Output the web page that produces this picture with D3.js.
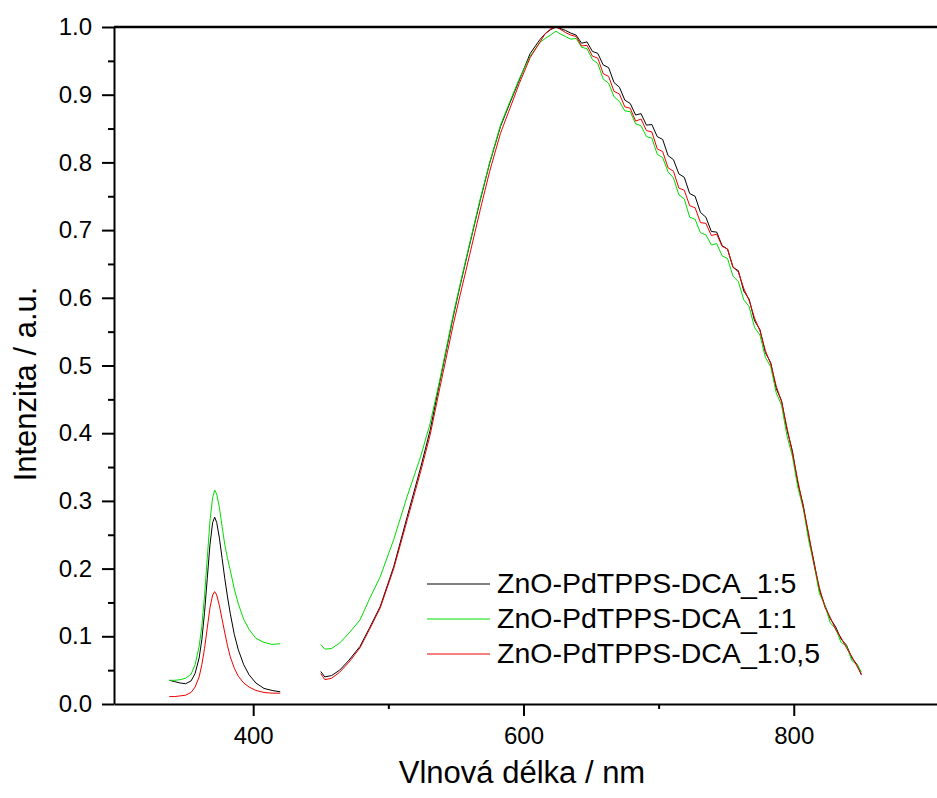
<!DOCTYPE html>
<html>
<head>
<meta charset="utf-8">
<script src="https://cdn.jsdelivr.net/npm/d3@7"></script>
<style>
    body { margin: 0; background: #fff; }
    svg { display: block; font-family: "Liberation Sans", Arial, sans-serif; }
</style>
</head>
<body>
<div id="chart"></div>
<script>
// --- Data ---
const seriesNames = ['ZnO-PdTPPS-DCA_1:5', 'ZnO-PdTPPS-DCA_1:1', 'ZnO-PdTPPS-DCA_1:0,5'];
const seriesColors = ['#000000', '#00dd00', '#ee0000'];

// UV band (ZnO emission)
const leftWavelengths = [338, 342, 346, 350, 354, 357, 360, 362, 364, 366, 368, 370, 371.5, 373, 375, 377, 379, 381, 383, 386, 389, 393, 397, 402, 408, 414, 420];
const blackLeft = [0.035, 0.033, 0.031, 0.030, 0.034, 0.045, 0.068, 0.095, 0.135, 0.185, 0.235, 0.268, 0.276, 0.268, 0.245, 0.215, 0.185, 0.158, 0.134, 0.103, 0.080, 0.058, 0.043, 0.031, 0.023, 0.020, 0.018];
const greenLeft = [0.035, 0.035, 0.036, 0.038, 0.044, 0.058, 0.085, 0.115, 0.160, 0.215, 0.270, 0.305, 0.316, 0.310, 0.290, 0.262, 0.235, 0.215, 0.198, 0.170, 0.148, 0.125, 0.110, 0.097, 0.091, 0.088, 0.089];
const redLeft = [0.011, 0.011, 0.012, 0.013, 0.017, 0.025, 0.040, 0.058, 0.082, 0.112, 0.142, 0.161, 0.166, 0.161, 0.145, 0.125, 0.105, 0.086, 0.070, 0.053, 0.041, 0.031, 0.025, 0.020, 0.017, 0.016, 0.016];

// visible band
const rightWavelengths = [450, 453, 458, 464, 471, 479, 486, 494, 504, 514, 524, 531, 538, 548, 553, 560, 568, 575, 583, 590, 597, 605, 612, 616, 620, 624, 627, 631, 635,
    639, 643, 647, 651, 655, 659, 663, 667, 671, 675, 679, 683, 687, 691, 695, 699, 703, 707, 711, 715, 719, 723, 727, 731, 735, 739, 743, 747,
    751, 755, 759, 763, 767, 771, 775, 779, 783, 787, 791, 795, 799, 803, 807, 811, 815, 819, 823, 827, 831, 835, 839, 843, 847, 850];
const blackRight = [0.048, 0.040, 0.042, 0.050, 0.065, 0.085, 0.112, 0.144, 0.203, 0.277, 0.350, 0.405, 0.475, 0.572, 0.617, 0.677, 0.744, 0.799, 0.853, 0.888, 0.922, 0.961, 0.981, 0.990, 0.996, 1.000, 0.998, 0.995, 0.991,
    0.988, 0.976, 0.978, 0.964, 0.961, 0.944, 0.940, 0.918, 0.911, 0.892, 0.887, 0.870, 0.872, 0.855, 0.856, 0.838, 0.834, 0.810, 0.804, 0.783, 0.778, 0.754, 0.750, 0.726, 0.719, 0.698, 0.697, 0.677,
    0.672, 0.645, 0.640, 0.610, 0.598, 0.566, 0.553, 0.519, 0.504, 0.466, 0.448, 0.405, 0.374, 0.326, 0.294, 0.248, 0.210, 0.168, 0.146, 0.126, 0.114, 0.096, 0.087, 0.068, 0.058, 0.043];
const greenRight = [0.088, 0.081, 0.082, 0.090, 0.105, 0.124, 0.155, 0.188, 0.243, 0.307, 0.366, 0.415, 0.478, 0.575, 0.619, 0.679, 0.746, 0.800, 0.855, 0.890, 0.924, 0.957, 0.977, 0.983, 0.988, 0.994, 0.990, 0.986, 0.982,
    0.983, 0.970, 0.968, 0.952, 0.946, 0.923, 0.917, 0.897, 0.890, 0.876, 0.875, 0.857, 0.854, 0.838, 0.836, 0.812, 0.807, 0.786, 0.777, 0.752, 0.746, 0.719, 0.716, 0.696, 0.693, 0.678, 0.680, 0.662,
    0.658, 0.632, 0.624, 0.597, 0.587, 0.556, 0.545, 0.512, 0.498, 0.460, 0.441, 0.396, 0.366, 0.320, 0.289, 0.242, 0.206, 0.163, 0.146, 0.120, 0.111, 0.091, 0.086, 0.064, 0.058, 0.047];
const redRight = [0.045, 0.036, 0.038, 0.047, 0.062, 0.083, 0.110, 0.142, 0.200, 0.272, 0.344, 0.398, 0.466, 0.560, 0.603, 0.662, 0.730, 0.787, 0.843, 0.880, 0.917, 0.955, 0.977, 0.990, 0.997, 1.000, 0.997, 0.992, 0.988,
    0.986, 0.972, 0.973, 0.957, 0.954, 0.931, 0.927, 0.905, 0.901, 0.882, 0.880, 0.861, 0.864, 0.847, 0.845, 0.820, 0.816, 0.792, 0.787, 0.762, 0.759, 0.736, 0.733, 0.711, 0.710, 0.692, 0.694, 0.676,
    0.672, 0.646, 0.638, 0.614, 0.596, 0.570, 0.551, 0.522, 0.502, 0.470, 0.446, 0.408, 0.371, 0.330, 0.291, 0.252, 0.206, 0.172, 0.143, 0.128, 0.110, 0.098, 0.083, 0.070, 0.055, 0.044];

const xMajorTicks = [400, 600, 800];
const xMinorTicks = [500, 700];
const yMajorTicks = [0, 0.1, 0.2, 0.3, 0.4, 0.5, 0.6, 0.7, 0.8, 0.9, 1.0];
const yMinorTicks = [0.05, 0.15, 0.25, 0.35, 0.45, 0.55, 0.65, 0.75, 0.85, 0.95];

const xTitle = 'Vlnová délka / nm';
const yTitle = 'Intenzita / a.u.';

// --- Chart ---
const width = 937, height = 798;

const svg = d3.select('#chart')
    .append('svg')
    .attr('width', width)
    .attr('height', height);

const x = d3.scaleLinear().domain([297, 906]).range([114, 937]);
const y = d3.scaleLinear().domain([0, 1]).range([704, 27]);

function segments(i) {
    const left = [blackLeft, greenLeft, redLeft][i];
    const right = [blackRight, greenRight, redRight][i];
    return [
        leftWavelengths.map((w, k) => [w, left[k]]),
        rightWavelengths.map((w, k) => [w, right[k]])
    ];
}

const line = d3.line()
    .x(d => x(d[0]))
    .y(d => y(d[1]));

seriesNames.forEach((name, i) => {
    svg.append('g')
        .selectAll('path')
        .data(segments(i))
        .enter()
        .append('path')
        .attr('d', line)
        .attr('fill', 'none')
        .attr('stroke', seriesColors[i])
        .attr('stroke-width', 1);
});

// --- Axes ---
svg.append('g')
    .attr('transform', `translate(0,${y(0)})`)
    .call(d3.axisBottom(x).tickValues(xMajorTicks).tickSize(12).tickSizeOuter(0).tickPadding(11));

svg.append('g')
    .attr('transform', `translate(0,${y(0)})`)
    .call(d3.axisBottom(x).tickValues(xMinorTicks).tickSize(5).tickFormat(''))
    .call(g => g.select('.domain').remove());

svg.append('g')
    .attr('transform', `translate(${x.range()[0]},0)`)
    .call(d3.axisLeft(y).tickValues(yMajorTicks).tickSize(12).tickSizeOuter(0).tickPadding(10).tickFormat(d3.format('.1f')));

svg.append('g')
    .attr('transform', `translate(${x.range()[0]},0)`)
    .call(d3.axisLeft(y).tickValues(yMinorTicks).tickSize(6).tickFormat(''))
    .call(g => g.select('.domain').remove());

svg.selectAll('.domain, .tick line')
    .attr('stroke', '#000')
    .attr('stroke-width', 2);

svg.selectAll('.tick text')
    .attr('font-family', '"Liberation Sans", Arial, sans-serif')
    .attr('font-size', 24)
    .attr('fill', '#000');

// top frame
svg.append('line')
    .attr('x1', x.range()[0])
    .attr('x2', x.range()[1])
    .attr('y1', y(1))
    .attr('y2', y(1))
    .attr('stroke', '#000')
    .attr('stroke-width', 2.5);

// titles
svg.append('text')
    .attr('x', 522)
    .attr('y', 783)
    .attr('text-anchor', 'middle')
    .attr('font-size', 31)
    .text(xTitle);

svg.append('text')
    .attr('transform', 'translate(36,384) rotate(-90)')
    .attr('text-anchor', 'middle')
    .attr('font-size', 31)
    .text(yTitle);

// --- Legend ---
const legend = svg.append('g').attr('transform', 'translate(427,584)');

seriesNames.forEach((name, i) => {
    const row = legend.append('g').attr('transform', `translate(0,${i * 35})`);
    row.append('line')
        .attr('x1', 0)
        .attr('x2', 63)
        .attr('stroke', seriesColors[i])
        .attr('stroke-width', 1);
    row.append('text')
        .attr('x', 70)
        .attr('y', 9)
        .attr('font-size', 28.5)
        .text(name);
});
</script>
</body>
</html>
